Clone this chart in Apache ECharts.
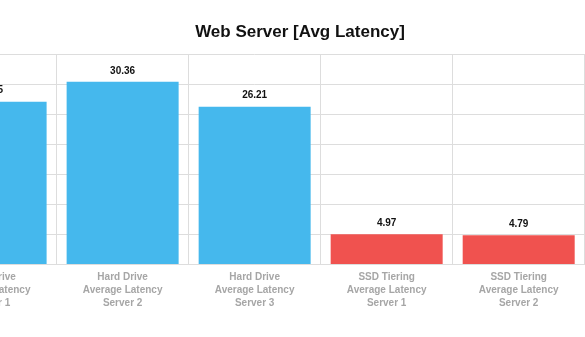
<!DOCTYPE html>
<html>
<head>
<meta charset="utf-8">
<script src="https://cdn.jsdelivr.net/npm/echarts@6/dist/echarts.min.js"></script>
<style>
html,body{margin:0;padding:0;background:#fff;overflow:hidden;width:585px;height:337px;position:relative;}
#c{position:absolute;left:-76px;top:0;width:661px;height:337px;}
</style>
</head>
<body>
<div id="c"></div>
<script>
const titleText = 'Web Server [Avg Latency]';
const categories = [
  'Hard Drive\nAverage Latency\nServer 1',
  'Hard Drive\nAverage Latency\nServer 2',
  'Hard Drive\nAverage Latency\nServer 3',
  'SSD Tiering\nAverage Latency\nServer 1',
  'SSD Tiering\nAverage Latency\nServer 2'
];
const hardDriveValues = [27.05, 30.36, 26.21, '-', '-'];
const ssdValues = ['-', '-', '-', 4.97, 4.79];
const yMin = 0, yMax = 35, yInterval = 5;

const chart = echarts.init(document.getElementById('c'), null, {renderer: 'canvas'});
const labelStyle = {
  show: true, position: 'top', distance: 6,
  color: '#111', fontSize: 10, fontWeight: 'bold',
  fontFamily: 'Liberation Sans, Arial, sans-serif',
  formatter: p => p.value.toFixed(2)
};
chart.setOption({
  animation: false,
  backgroundColor: '#fff',
  title: {
    text: titleText,
    left: 371, top: 19, textAlign: 'center',
    textStyle: {fontSize: 17, fontWeight: 'bold', color: '#111', fontFamily: 'Liberation Sans, Arial, sans-serif'}
  },
  grid: {left: 0.6, right: 0.3, top: 54, bottom: 73},
  xAxis: {
    type: 'category',
    data: categories,
    axisLine: {show: true, lineStyle: {color: '#dddddd'}},
    axisTick: {show: false},
    splitLine: {show: true, interval: 0, lineStyle: {color: '#dddddd'}},
    axisLabel: {
      interval: 0, margin: 7, color: '#a6a6a6', fontSize: 10, fontWeight: 'bold',
      lineHeight: 12.7, fontFamily: 'Liberation Sans, Arial, sans-serif'
    }
  },
  yAxis: {
    type: 'value', min: yMin, max: yMax, interval: yInterval,
    axisLabel: {show: false}, axisLine: {show: false}, axisTick: {show: false},
    splitLine: {show: true, lineStyle: {color: '#dddddd'}}
  },
  series: [
    {type: 'bar', name: 'Hard Drive', stack: 'a', data: hardDriveValues, barWidth: 112,
     itemStyle: {color: '#45b8ed'}, label: labelStyle},
    {type: 'bar', name: 'SSD Tiering', stack: 'a', data: ssdValues, barWidth: 112,
     itemStyle: {color: '#f0524f'}, label: labelStyle}
  ]
});
</script>
</body>
</html>
